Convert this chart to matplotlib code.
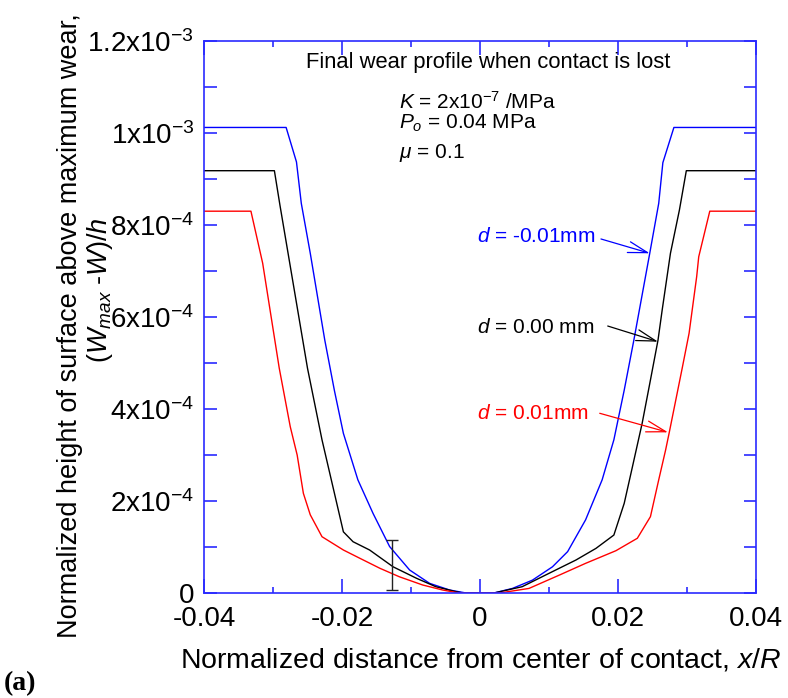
import matplotlib
matplotlib.use("Agg")
import matplotlib.pyplot as plt
from matplotlib.ticker import FixedLocator, FixedFormatter

plt.rcParams["font.family"] = ["Liberation Sans", "DejaVu Sans"]
plt.rcParams["mathtext.fontset"] = "custom"
plt.rcParams["mathtext.rm"] = "Liberation Sans"
plt.rcParams["mathtext.it"] = "Liberation Sans:italic"
plt.rcParams["mathtext.bf"] = "Liberation Sans:bold"

# wear profiles, d = -0.01 mm (blue), 0.00 mm (black), 0.01 mm (red)
x_neg = [-0.040, -0.0281, -0.0266, -0.0259, -0.0246, -0.0225, -0.0211, -0.0198, -0.0177,
         -0.0155, -0.0131, -0.0102, -0.0073, -0.0044, -0.0020, 0.0, 0.0020, 0.0047, 0.0076,
         0.0105, 0.0127, 0.0153, 0.0177, 0.0194, 0.0209, 0.0223, 0.0246, 0.0259, 0.0265,
         0.0281, 0.040]
h_neg = [1.012e-3, 1.012e-3, 0.937e-3, 0.847e-3, 0.7385e-3, 0.55e-3, 0.44e-3, 0.347e-3, 0.246e-3,
         0.173e-3, 0.101e-3, 0.050e-3, 0.021e-3, 0.0065e-3, 0.0, 0.0, 0.0, 0.010e-3, 0.028e-3,
         0.057e-3, 0.090e-3, 0.159e-3, 0.246e-3, 0.333e-3, 0.441e-3, 0.55e-3, 0.7385e-3, 0.847e-3,
         0.9355e-3, 1.012e-3, 1.012e-3]

x_zero = [-0.040, -0.0298, -0.0290, -0.0270, -0.0250, -0.0229, -0.0198, -0.0184, -0.0160,
          -0.0126, -0.0092, -0.0064, -0.0035, -0.0025, 0.0, 0.0020, 0.0061, 0.0100, 0.0139,
          0.0168, 0.0194, 0.0209, 0.0221, 0.0235, 0.0247, 0.0258, 0.0264, 0.0276, 0.0289,
          0.0299, 0.040]
h_zero = [0.918e-3, 0.918e-3, 0.8435e-3, 0.666e-3, 0.4885e-3, 0.333e-3, 0.133e-3, 0.1115e-3, 0.0935e-3,
          0.057e-3, 0.032e-3, 0.0137e-3, 0.003e-3, 0.0, 0.0, 0.0, 0.0137e-3, 0.0428e-3, 0.0717e-3,
          0.097e-3, 0.126e-3, 0.195e-3, 0.275e-3, 0.369e-3, 0.463e-3, 0.55e-3, 0.615e-3, 0.7385e-3,
          0.8326e-3, 0.918e-3, 0.918e-3]

x_pos = [-0.040, -0.0332, -0.0315, -0.0291, -0.0275, -0.0265, -0.0256, -0.0246, -0.0229,
         -0.0198, -0.0174, -0.0145, -0.0117, -0.0083, -0.0054, -0.0030, 0.0, 0.0028, 0.0071,
         0.0115, 0.0153, 0.0197, 0.0228, 0.0247, 0.0259, 0.0269, 0.0274, 0.0293, 0.0303,
         0.0314, 0.0317, 0.0333, 0.040]
h_pos = [0.830e-3, 0.830e-3, 0.717e-3, 0.489e-3, 0.3615e-3, 0.30e-3, 0.2167e-3, 0.170e-3, 0.1224e-3,
         0.0935e-3, 0.0754e-3, 0.0537e-3, 0.0354e-3, 0.0174e-3, 0.0065e-3, 0.0, 0.0, 0.0, 0.010e-3,
         0.039e-3, 0.0645e-3, 0.092e-3, 0.119e-3, 0.166e-3, 0.246e-3, 0.311e-3, 0.347e-3, 0.4885e-3,
         0.5646e-3, 0.6876e-3, 0.731e-3, 0.830e-3, 0.830e-3]

# error bar
err_x = -0.0127
err_y = 0.061e-3
err_half = 0.054e-3

x_ticks = [-0.04, -0.02, 0.0, 0.02, 0.04]
x_ticklabels = ["-0.04", "-0.02", "0", "0.02", "0.04"]
x_minor = [-0.03, -0.01, 0.01, 0.03]
y_ticks = [0.0, 2e-4, 4e-4, 6e-4, 8e-4, 1e-3, 1.2e-3]
y_ticklabels = ["0", r"2x10$^{-4}$", r"4x10$^{-4}$", r"6x10$^{-4}$", r"8x10$^{-4}$",
                r"1x10$^{-3}$", r"1.2x10$^{-3}$"]
y_minor = [1e-4, 3e-4, 5e-4, 7e-4, 9e-4, 1.1e-3]

axis_blue = "#2a2aff"

fig = plt.figure(figsize=(7.88, 6.98), dpi=100)
ax = fig.add_axes([0.2589, 0.1504, 0.7005, 0.7909])

ax.plot(x_neg, h_neg, color="#0000ff", lw=1.0)
ax.plot(x_zero, h_zero, color="black", lw=1.0)
ax.plot(x_pos, h_pos, color="#ff0000", lw=1.0)
ax.errorbar([err_x], [err_y], yerr=[err_half], color="#222222", lw=1.0, capsize=4.5,
            capthick=1.0)

ax.set_xlim(-0.04, 0.04)
ax.set_ylim(0, 1.2e-3)
ax.xaxis.set_major_locator(FixedLocator(x_ticks))
ax.xaxis.set_major_formatter(FixedFormatter(x_ticklabels))
ax.xaxis.set_minor_locator(FixedLocator(x_minor))
ax.yaxis.set_major_locator(FixedLocator(y_ticks))
ax.yaxis.set_major_formatter(FixedFormatter(y_ticklabels))
ax.yaxis.set_minor_locator(FixedLocator(y_minor))

for s in ax.spines.values():
    s.set_color(axis_blue)
    s.set_linewidth(1.2)
ax.tick_params(which="both", direction="in", top=True, right=True, color=axis_blue,
               labelsize=20, width=1.2)
ax.tick_params(axis="x", which="major", length=10, pad=9)
ax.tick_params(axis="x", which="minor", length=4)
ax.tick_params(axis="y", which="both", length=9, pad=7)

# annotations
ax.text(0.0012, 1.154e-3, "Final wear profile when contact is lost", fontsize=15.8,
        ha="center", va="center")
ax.text(-0.0117, 1.068e-3, r"$K$ = 2x10$^{-7}$ /MPa", fontsize=15, va="center")
ax.text(-0.0117, 1.022e-3, r"$P_o$ = 0.04 MPa", fontsize=15, va="center")
ax.text(-0.0117, 0.9565e-3, r"$\mu$ = 0.1", fontsize=15, va="center")

labels = [
    (r"$d$ = -0.01mm", 0.7746e-3, (0.01753, 0.7696e-3), (0.0246, 0.7385e-3), "#0000ff"),
    (r"$d$ = 0.00 mm", 0.5767e-3, (0.01851, 0.5804e-3), (0.0258, 0.5463e-3), "black"),
    (r"$d$ = 0.01mm", 0.3913e-3, (0.01735, 0.3907e-3), (0.02725, 0.3493e-3), "#ff0000"),
]
for txt, ty, tail, head, c in labels:
    ax.text(-0.0004, ty, txt, fontsize=15, color=c, va="center")
    ax.annotate("", xy=head, xytext=tail,
                arrowprops=dict(arrowstyle="->,head_length=0.7,head_width=0.2", color=c,
                                lw=0.9, mutation_scale=20, shrinkA=0, shrinkB=0))

fig.text(70 / 788, 1 - 326 / 698, "Normalized height of surface above maximum wear,",
         rotation=90, fontsize=19.5, ha="center", va="center")
fig.text(100 / 788, 1 - 290 / 698, r"($W_{max}$ -$W$)/$h$", rotation=90, fontsize=19.5,
         ha="center", va="center")
fig.text(481 / 788, 1 - 660 / 698, r"Normalized distance from center of contact, $x/R$",
         fontsize=20.5, ha="center", va="center")
fig.text(0.005, 1 - 684 / 698, "(a)", fontsize=20, fontweight="bold",
         family="Liberation Serif", ha="left", va="center")

fig.savefig("out.png", dpi=100)
